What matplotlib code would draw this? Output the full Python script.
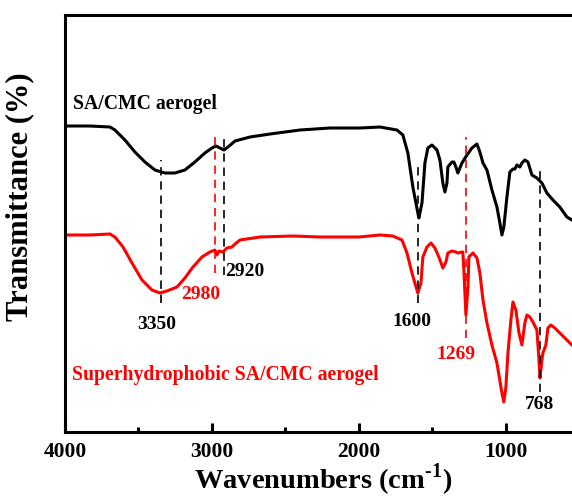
import matplotlib
matplotlib.use('Agg')
import matplotlib.pyplot as plt
from matplotlib.ticker import MultipleLocator

plt.rcParams.update({'font.family': 'Liberation Serif',
                     'font.weight': 'bold',
                     'mathtext.fontset': 'custom',
                     'mathtext.rm': 'Liberation Serif:bold',
                     'mathtext.bf': 'Liberation Serif:bold'})

# FTIR spectra (wavenumber in cm-1, transmittance in arbitrary units)
wn_sa = [4000, 3830, 3694, 3660, 3592, 3524, 3456, 3388, 3320, 3252, 3184, 3116, 3048,
         3000, 2973, 2946, 2918, 2891, 2843, 2741, 2605, 2401, 2197, 1993, 1857, 1741,
         1701, 1667, 1633, 1599, 1592, 1571, 1551, 1531, 1503, 1469, 1449, 1429, 1415,
         1401, 1395, 1367, 1354, 1340, 1327, 1299, 1265, 1231, 1197, 1177, 1156, 1129,
         1095, 1061, 1041, 1027, 1014, 993, 973, 952, 939, 925, 905, 891, 871, 850, 823,
         789, 755, 721, 680, 633, 585, 551]
t_sa = [306, 306, 305, 302, 292, 280, 270, 262, 259, 259, 262, 270, 279,
        284, 286, 284, 282, 285, 291, 295, 298, 302, 304, 304, 305, 302,
        297, 279, 245, 219, 214, 229, 269, 284, 287, 282, 272, 249, 240,
        249, 265, 270, 270, 265, 259, 269, 277, 284, 288, 280, 269, 262,
        242, 225, 209, 197, 205, 235, 260, 263, 263, 267, 265, 269, 272, 270, 257,
        254, 249, 239, 232, 225, 215, 212]

wn_super = [4000, 3830, 3694, 3660, 3605, 3544, 3476, 3408, 3354, 3306, 3238, 3184, 3129,
            3068, 3014, 2980, 2966, 2952, 2925, 2898, 2864, 2843, 2809, 2673, 2449, 2265,
            2000, 1857, 1769, 1707, 1673, 1639, 1605, 1599, 1578, 1565, 1537, 1510, 1483,
            1456, 1429, 1408, 1395, 1367, 1340, 1327, 1299, 1293, 1286, 1272, 1258, 1252,
            1224, 1197, 1177, 1156, 1129, 1095, 1061, 1027, 1014, 1000, 986, 966, 952, 932,
            911, 891, 871, 857, 837, 816, 789, 775, 768, 755, 748, 728, 714, 694, 667,
            633, 585, 551]
t_super = [197, 197, 198, 195, 185, 169, 152, 142, 139, 141, 145, 154, 165,
           175, 180, 182, 177, 181, 180, 184, 185, 188, 192, 195, 196, 195,
           195, 197, 196, 192, 179, 159, 142, 139, 149, 175, 185, 189, 184,
           175, 164, 170, 179, 181, 180, 179, 180, 180, 162, 117, 145, 175,
           179, 174, 159, 132, 109, 87, 69, 39, 30, 45, 79, 112, 130, 122,
           99, 87, 109, 117, 115, 110, 102, 72, 54, 72, 79, 87, 104, 107, 104,
           99, 92, 87]

# marked peaks: position, line bottom/top, colour
peak_wn = [3350, 2980, 2920, 1600, 1269, 768]
peak_lo = [129, 159, 157, 129, 94, 40]
peak_hi = [272, 297, 294, 270, 295, 262]
peak_col = ['black', 'red', 'black', 'black', 'red', 'black']
# peak labels: text, x, y
lab_txt = ['3350', '2980', '2920', '1600', '1269', '768']
lab_x = [3374, 3075, 2776, 1639, 1340, 768]
lab_y = [107, 137, 160, 110, 77, 27]

fig = plt.figure(figsize=(5.72, 4.97), dpi=100)
ax = fig.add_axes([0.1136, 0.1308, 0.925, 0.839])

ax.plot(wn_sa, t_sa, color='black', lw=2.2, solid_joinstyle='round')
ax.plot(wn_super, t_super, color='red', lw=2.2, solid_joinstyle='round')

for w, lo, hi, c in zip(peak_wn, peak_lo, peak_hi, peak_col):
    ax.plot([w, w], [lo, hi], color=c, lw=1.2, ls=(0, (5, 3.5)))

for t, x, y, c in zip(lab_txt, lab_x, lab_y, peak_col):
    ax.text(x, y, t, color=c, fontsize=14, fontweight='bold', ha='center', va='center')

ax.text(3946, 328, 'SA/CMC aerogel', color='black', fontsize=14.2, fontweight='bold', va='center')
ax.text(3952, 57, 'Superhydrophobic SA/CMC aerogel', color='red', fontsize=14.2,
        fontweight='bold', va='center')

ax.set_xlim(4000, 400)
ax.set_ylim(0, 417)
ax.xaxis.set_major_locator(MultipleLocator(1000))
ax.xaxis.set_minor_locator(MultipleLocator(500))
ax.tick_params(axis='x', which='major', direction='in', length=6.5, width=2.2,
               labelsize=15.5, pad=7)
ax.tick_params(axis='x', which='minor', direction='in', length=3.5, width=2.2)
ax.set_yticks([])
for s in ax.spines.values():
    s.set_linewidth(2.2)
ax.spines['right'].set_visible(False)

ax.set_xlabel(r'Wavenumbers (cm$^{\text{-1}}$)', fontsize=20.5, fontweight='bold',
              va='baseline')
ax.xaxis.set_label_coords(0.488, -0.137)
ax.set_ylabel('Transmittance (%)', fontsize=22, fontweight='bold')
ax.yaxis.set_label_coords(-0.058, 0.564)

fig.savefig('out.png', dpi=100)
